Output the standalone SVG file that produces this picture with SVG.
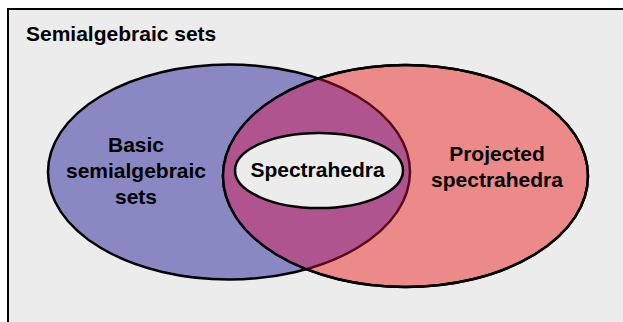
<svg xmlns="http://www.w3.org/2000/svg" width="623" height="322" viewBox="0 0 623 322">
<style>
text{font-family:"Liberation Sans",Arial,sans-serif;font-weight:bold;font-size:21px;fill:#000}
.c{text-anchor:middle}
</style>
<defs>
<clipPath id="rclip"><ellipse cx="405.5" cy="176" rx="182.5" ry="111"/></clipPath>
</defs>
<rect id="outer" x="8" y="9" width="630" height="330" fill="#ececec" stroke="#000" stroke-width="2"/>
<text x="26" y="41">Semialgebraic sets</text>
<g id="basic">
<ellipse cx="229" cy="172" rx="181" ry="107.5" fill="#8a88c2" stroke="#000" stroke-width="2.5"/>
</g>
<g id="projected">
<ellipse cx="405.5" cy="176" rx="182.5" ry="111" fill="#ec8a8a" stroke="#000" stroke-width="2.5"/>
<g clip-path="url(#rclip)">
<ellipse cx="229" cy="172" rx="181" ry="107.5" fill="#b05490" stroke="#5a0a14" stroke-width="2.5"/>
</g>
<ellipse cx="405.5" cy="176" rx="182.5" ry="111" fill="none" stroke="#000" stroke-width="2.5"/>
</g>
<g id="basic-label">
<text class="c" x="136" y="152">Basic</text>
<text class="c" x="136" y="178">semialgebraic</text>
<text class="c" x="136" y="204">sets</text>
</g>
<g id="projected-label">
<text class="c" x="497" y="161">Projected</text>
<text class="c" x="497" y="187">spectrahedra</text>
</g>
<g id="spectrahedra">
<ellipse cx="319" cy="170.5" rx="84" ry="37.5" fill="#ececec" stroke="#000" stroke-width="2.5"/>
<text class="c" x="317.5" y="177">Spectrahedra</text>
</g>
</svg>
